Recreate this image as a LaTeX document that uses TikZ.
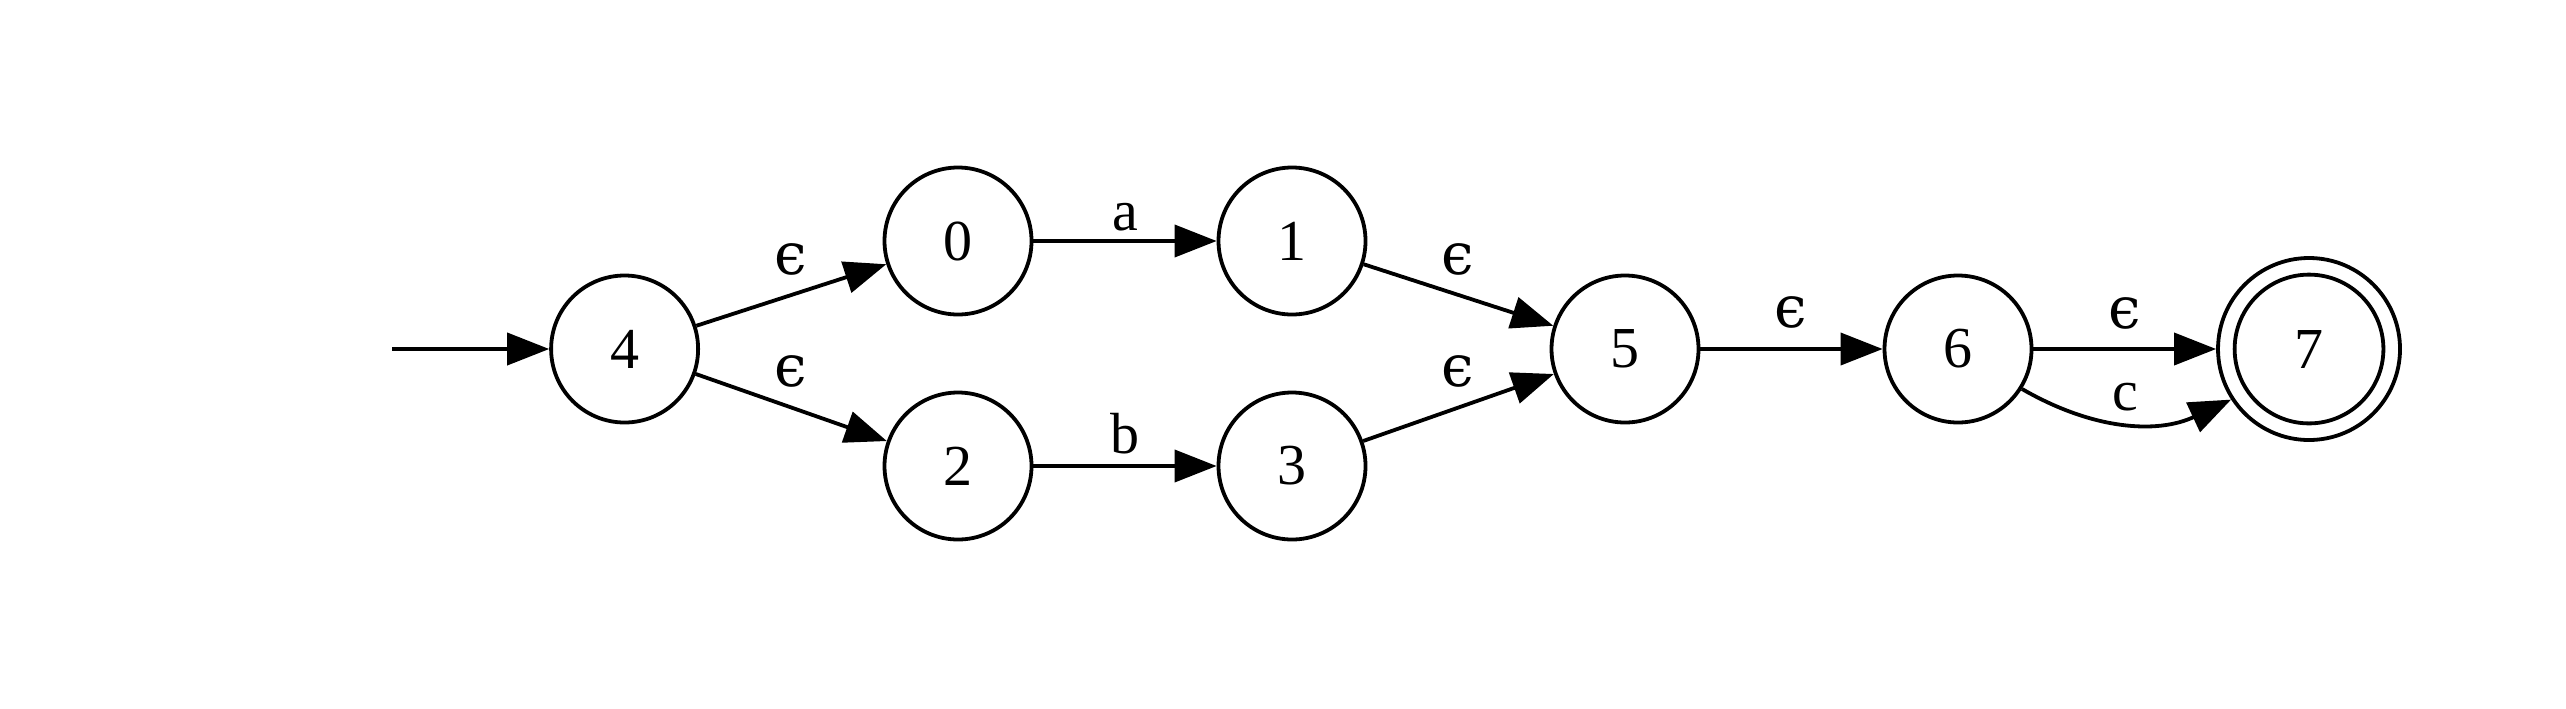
\documentclass[tikz,border=0pt]{standalone}
\usepackage{fontspec}
\setmainfont{Liberation Serif}
\newfontfamily\epsfamily{DejaVu Serif}
\usetikzlibrary{arrows.meta}
\begin{document}
\begin{tikzpicture}[x=0.25pt,y=-0.25pt,
  state/.style={circle,draw,line width=0.95pt,minimum size=36.75pt,inner sep=0pt,font=\fontsize{14.5}{17}\selectfont},
  edge/.style={line width=0.95pt,-{Triangle[length=10.5pt,width=8pt]}},
  lbl/.style={anchor=base,inner sep=0pt,font=\fontsize{14.5}{17}\selectfont},
  elbl/.style={lbl,font=\fontsize{14.5}{17}\epsfamily}]
\useasboundingbox (0,0) rectangle (2566,708);
\node[state] (n4) at (624.6,349) {4};
\node[state] (n0) at (958,241) {0};
\node[state] (n2) at (958,466) {2};
\node[state] (n1) at (1292,241) {1};
\node[state] (n3) at (1292,466) {3};
\node[state] (n5) at (1625,349) {5};
\node[state] (n6) at (1958,349) {6};
\node[state,minimum size=45.5pt] (n7) at (2309,349) {7};
\draw[line width=0.95pt] (n7.center) circle[radius=18.6pt];
\coordinate (start) at (392,349);
\draw[edge] (start) -- (n4);
\draw[edge] (n4) -- (n0);
\draw[edge] (n4) -- (n2);
\draw[edge] (n0) -- (n1);
\draw[edge] (n2) -- (n3);
\draw[edge] (n1) -- (n5);
\draw[edge] (n3) -- (n5);
\draw[edge] (n5) -- (n6);
\draw[edge] (n6) -- (n7);
\draw[edge] (n6.-32) to[out=-30,in=-155] (n7.-147);
\node[elbl] (l40) at (791,274) {ϵ};
\node[elbl] (l42) at (791,386) {ϵ};
\node[lbl] (l01) at (1125,230) {a};
\node[lbl] (l23) at (1125,453) {b};
\node[elbl] (l15) at (1458,274) {ϵ};
\node[elbl] (l35) at (1458,386) {ϵ};
\node[elbl] (l56) at (1791,327) {ϵ};
\node[elbl] (l67) at (2125,328) {ϵ};
\node[lbl] (l67c) at (2125,410) {c};
\end{tikzpicture}
\end{document}
